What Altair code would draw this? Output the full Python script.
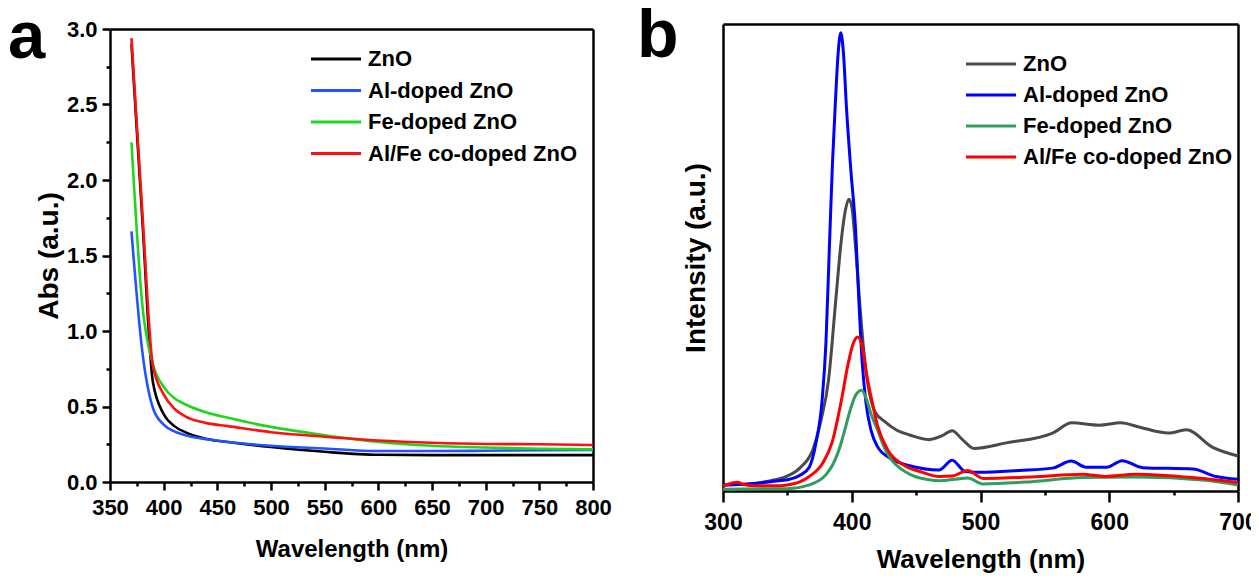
import altair as alt
import pandas as pd

SERIES = ["ZnO", "Al-doped ZnO", "Fe-doped ZnO", "Al/Fe co-doped ZnO"]
COLORS_A = ["#000000", "#2352ff", "#1fd61f", "#ff1010"]
COLORS_B = ["#4a4a4a", "#0000ff", "#2f9e5c", "#ff0000"]

# ---------------- panel a : absorbance ----------------
a_wavelength = [370, 380, 390, 400, 410, 420, 440, 460, 500, 550, 600, 650, 700, 750, 800]
a_zno  = [2.90, 1.75, 0.66, 0.45, 0.37, 0.33, 0.285, 0.265, 0.232, 0.200, 0.180, 0.178, 0.178, 0.178, 0.178]
a_al   = [1.66, 0.87, 0.49, 0.38, 0.335, 0.31, 0.283, 0.265, 0.240, 0.222, 0.205, 0.205, 0.207, 0.210, 0.212]
a_fe   = [2.25, 1.18, 0.78, 0.63, 0.555, 0.515, 0.46, 0.425, 0.365, 0.310, 0.265, 0.240, 0.228, 0.220, 0.216]
a_alfe = [2.94, 1.80, 0.77, 0.58, 0.485, 0.435, 0.39, 0.37, 0.330, 0.300, 0.275, 0.260, 0.252, 0.250, 0.245]

A_X_TICKS = [350, 400, 450, 500, 550, 600, 650, 700, 750, 800]
A_X_MINOR = [375, 425, 475, 525, 575, 625, 675, 725, 775]
A_Y_TICKS = [0.0, 0.5, 1.0, 1.5, 2.0, 2.5, 3.0]
A_Y_MINOR = [0.25, 0.75, 1.25, 1.75, 2.25, 2.75]

# ---------------- panel b : photoluminescence ----------------
b_zno_wl = [300, 320, 340, 350, 360, 370, 376, 382, 387.6, 392, 395, 397.7, 400, 403, 406, 409, 412,
            418, 425, 435, 445, 460, 470, 478, 486, 495, 520, 556, 571, 592, 609, 623, 646, 660, 680, 700]
b_zno = [1.3, 1.5, 2.4, 3.2, 5.0, 9.0, 15, 23.8, 40.9, 54, 60, 62.5, 61, 52, 40.9, 31, 23.8,
         17, 15, 13, 12, 11.0, 11.8, 12.9, 11, 9.1, 10.3, 12.4, 14.6, 14.1, 14.6, 13.7, 12.4, 13.1, 9.4, 7.5]

b_al_wl = [300, 320, 340, 350, 360, 367, 372, 377, 380, 382.6, 385, 387, 389.5, 391.5, 393.5, 396, 399.5,
           403, 405.5, 408, 411, 415, 420, 430, 445, 468, 478, 488, 500, 530, 556, 570.5, 582, 598, 610,
           626, 665, 683, 700]
b_al = [1.3, 1.5, 2.1, 2.4, 3.4, 5.1, 10, 19.5, 32, 52, 70, 81.6, 94, 98.1, 94, 81.6, 68,
        55.9, 40.9, 28, 19, 13, 9.5, 7, 5.4, 4.5, 6.6, 4.2, 4.0, 4.4, 4.9, 6.4, 5.1, 5.1, 6.5,
        5.0, 4.7, 3.1, 2.5]

b_fe_wl = [300, 350, 367, 380, 385, 389, 392, 394.6, 399, 403, 407.7, 411, 415, 420, 425, 431, 438,
           446.5, 460, 468, 480, 490, 502, 540, 579, 620, 675, 700]
b_fe = [0.4, 0.5, 1.3, 3.5, 5.5, 8.0, 10.5, 13.1, 17.5, 20.5, 21.6, 20, 16.5, 13.1, 9.5, 6.6, 4.8,
        3.4, 2.4, 2.2, 2.5, 2.8, 1.5, 2.0, 2.9, 3.0, 2.3, 1.3]

b_alfe_wl = [300, 306, 311, 316, 325, 340, 350, 360, 367, 377.5, 384.6, 392, 397, 401, 404.6, 408, 411.5,
             415.5, 420, 428, 440, 455, 468, 478, 490, 502, 540, 579, 597, 620, 675, 700]
b_alfe = [1.1, 1.6, 1.9, 1.4, 1.1, 1.1, 1.3, 2.0, 3.1, 6.0, 10.3, 19.5, 27, 31.5, 33, 31, 25,
          19.5, 14, 8.8, 5.6, 4.0, 3.1, 3.2, 4.4, 2.7, 3.0, 3.6, 3.1, 3.6, 2.6, 1.8]

B_X_TICKS = [300, 400, 500, 600, 700]
B_X_MINOR = [350, 450, 550, 650]

PANEL_LABELS = ["a", "b"]

# ---------------- tables ----------------
rows_a = []
for name, vals in zip(SERIES, [a_zno, a_al, a_fe, a_alfe]):
    for w, v in zip(a_wavelength, vals):
        rows_a.append({"series": name, "wl": w, "val": v})
df_a = pd.DataFrame(rows_a)

rows_b = []
for name, wls, vals in zip(SERIES, [b_zno_wl, b_al_wl, b_fe_wl, b_alfe_wl], [b_zno, b_al, b_fe, b_alfe]):
    for w, v in zip(wls, vals):
        rows_b.append({"series": name, "wl": w, "val": v})
df_b = pd.DataFrame(rows_b)

FP = "Liberation Sans"
W, H = 1128, 467

xa_scale = alt.Scale(domain=[350, 800], range=[0, 483], nice=False, zero=False)
ya_scale = alt.Scale(domain=[0, 3], range=[458, 5], nice=False, zero=False)
xb_scale = alt.Scale(domain=[300, 700], range=[613, 1128], nice=False, zero=False)
yb_scale = alt.Scale(domain=[0, 100], range=[467, 0], nice=False, zero=False)


def blank_axis(orient, offset):
    return alt.Axis(orient=orient, offset=offset, ticks=False, labels=False, domain=True,
                    domainColor="black", domainWidth=2.5, grid=False, title=None)


def minor_axis(orient, offset, values, width):
    return alt.Axis(orient=orient, offset=offset, values=values, ticks=True, tickSize=4,
                    tickWidth=width, tickColor="black", labels=False, domain=False,
                    grid=False, title=None)


legend_common = dict(orient="none", symbolType="M-2,0H2", symbolSize=625, symbolStrokeWidth=3,
                     labelFont=FP, labelFontSize=22, labelFontWeight="bold", labelColor="black",
                     labelOffset=18, title=None, padding=0, labelLimit=400)

# panel a lines
lines_a = alt.Chart(df_a).mark_line(strokeWidth=2.6, interpolate="monotone").encode(
    x=alt.X("wl:Q", scale=xa_scale, axis=alt.Axis(
        orient="bottom", offset=-9, values=A_X_TICKS, format="d", tickSize=8, tickWidth=2.5,
        tickColor="black", domainColor="black", domainWidth=2.5, grid=False, labelFlush=False,
        labelOverlap=False, labelFont=FP, labelFontSize=22, labelFontWeight="bold",
        labelColor="black", labelPadding=7, title="Wavelength (nm)", titleFont=FP,
        titleFontSize=24, titleFontWeight="bold", titleColor="black", titlePadding=19)),
    y=alt.Y("val:Q", scale=ya_scale, axis=alt.Axis(
        orient="left", offset=0, values=A_Y_TICKS, format=".1f", tickSize=8, tickWidth=2.5,
        tickColor="black", domainColor="black", domainWidth=2.5, grid=False, labelFlush=False,
        labelOverlap=False, labelFont=FP, labelFontSize=22, labelFontWeight="bold",
        labelColor="black", labelPadding=5, title="Abs (a.u.)", titleFont=FP,
        titleFontSize=28, titleFontWeight="bold", titleColor="black", titlePadding=3)),
    color=alt.Color("series:N", scale=alt.Scale(domain=SERIES, range=COLORS_A),
                    legend=alt.Legend(legendX=212, legendY=21, rowPadding=6.5, **legend_common)),
)

minor_a = alt.Chart(df_a).mark_point(opacity=0).encode(
    x=alt.X("wl:Q", scale=xa_scale, axis=minor_axis("bottom", -9, A_X_MINOR, 2.5)),
    y=alt.Y("val:Q", scale=ya_scale, axis=minor_axis("left", 0, A_Y_MINOR, 2.5)),
)

frame_a = alt.Chart(df_a).mark_point(opacity=0).encode(
    x=alt.X("wl:Q", scale=xa_scale, axis=blank_axis("top", -5)),
    y=alt.Y("val:Q", scale=ya_scale, axis=blank_axis("right", -(W - 483))),
)

# panel b lines
lines_b = alt.Chart(df_b).mark_line(strokeWidth=3, interpolate="monotone").encode(
    x=alt.X("wl:Q", scale=xb_scale, axis=alt.Axis(
        orient="bottom", offset=0, values=B_X_TICKS, format="d", tickSize=11, tickWidth=2.5,
        tickColor="black", domainColor="black", domainWidth=2.5, grid=False, labelFlush=False,
        labelOverlap=False, labelFont=FP, labelFontSize=23, labelFontWeight="bold",
        labelColor="black", labelPadding=9, title="Wavelength (nm)", titleFont=FP,
        titleFontSize=26, titleFontWeight="bold", titleColor="black", titlePadding=12)),
    y=alt.Y("val:Q", scale=yb_scale, axis=alt.Axis(
        orient="left", offset=-613, ticks=False, labels=False, domainColor="black",
        domainWidth=2.5, grid=False, title="Intensity (a.u.)", titleFont=FP,
        titleFontSize=28, titleFontWeight="bold", titleColor="black", titlePadding=13)),
    color=alt.Color("series:N", scale=alt.Scale(domain=SERIES, range=COLORS_B),
                    legend=alt.Legend(legendX=867, legendY=26, rowPadding=6, **legend_common)),
)

minor_b = alt.Chart(df_b).mark_point(opacity=0).encode(
    x=alt.X("wl:Q", scale=xb_scale, axis=minor_axis("bottom", 0, B_X_MINOR, 2.5)),
    y=alt.Y("val:Q", scale=yb_scale, axis=None),
)

frame_b = alt.Chart(df_b).mark_point(opacity=0).encode(
    x=alt.X("wl:Q", scale=xb_scale, axis=blank_axis("top", 0)),
    y=alt.Y("val:Q", scale=yb_scale, axis=blank_axis("right", 0)),
)

label_a = alt.Chart(pd.DataFrame({"t": [PANEL_LABELS[0]]})).mark_text(
    font=FP, fontSize=67, fontWeight="bold", align="left", baseline="alphabetic", color="black"
).encode(text="t:N", x=alt.value(-102), y=alt.value(34))

label_b = alt.Chart(pd.DataFrame({"t": [PANEL_LABELS[1]]})).mark_text(
    font=FP, fontSize=68, fontWeight="bold", align="left", baseline="alphabetic", color="black"
).encode(text="t:N", x=alt.value(527), y=alt.value(33))

chart = alt.layer(
    lines_a, minor_a, frame_a, lines_b, minor_b, frame_b, label_a, label_b
).resolve_scale(
    x="independent", y="independent", color="independent"
).resolve_axis(
    x="independent", y="independent"
).resolve_legend(
    color="independent"
).properties(
    width=W, height=H,
    padding={"left": 102, "top": 16, "right": 13, "bottom": 90},
    autosize=alt.AutoSizeParams(type="none"),
    background="white",
).configure_view(stroke=None)

chart.save("out.html", embed_options={"renderer": "svg", "actions": False})
